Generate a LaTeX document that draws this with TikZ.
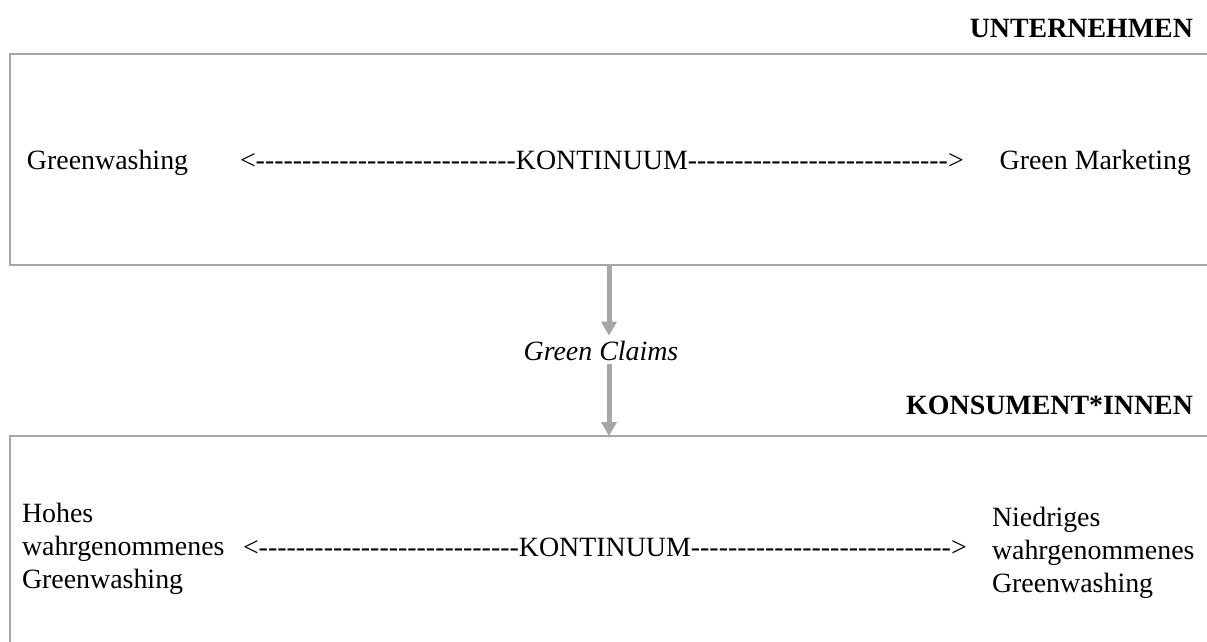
\documentclass[tikz,border=0pt]{standalone}
\usepackage{fontspec}
\setmainfont{Liberation Serif}
\newfontfamily\rawfont{Liberation Serif}[Ligatures=TeXOff]
\usetikzlibrary{arrows.meta}
\definecolor{linegray}{HTML}{A6A6A6}
\begin{document}
\begin{tikzpicture}[x=1pt,y=-1pt,
  every node/.style={inner sep=0pt, outer sep=0pt, font=\fontsize{27.9}{33}\selectfont},
  box/.style={draw=linegray, line width=2.5pt, rectangle},
  flow/.style={draw=linegray, line width=5pt, -{Triangle[width=15pt,length=14pt]}},
  head/.style={font=\fontsize{27.9}{33}\selectfont\bfseries},
  cont/.style={font=\fontsize{27.9}{33}\selectfont\rawfont}]
\useasboundingbox (0,0) rectangle (1207,641);
\clip (0,0) rectangle (1207,641);
\fill[white] (0,0) rectangle (1207,641);
% boxes
\node[box, minimum width=1198pt, minimum height=211pt, anchor=north west] (top) at (10,54) {};
\node[box, minimum width=1198pt, minimum height=300pt, anchor=north west] (bot) at (10,436) {};
% headers
\node[head, anchor=base east] (unt) at (1193,37) {UNTERNEHMEN};
\node[head, anchor=base east] (kons) at (1193,414) {KONSUMENT*INNEN};
% top row
\node[anchor=base west] (gw) at (27,169) {Greenwashing};
\node[cont, anchor=base west] (k1) at (240,169) {<----------------------------KONTINUUM---------------------------->};
\node[anchor=base east] (gm) at (1191,169) {Green Marketing};
% green claims
\node[anchor=base, font=\fontsize{27.9}{33}\selectfont\itshape] (gc) at (601,360) {Green Claims};
% bottom row
\node[anchor=base west, align=left] (hohes) at (22,588) {Hohes\\wahrgenommenes\\Greenwashing};
\node[cont, anchor=base west] (k2) at (243,556) {<----------------------------KONTINUUM---------------------------->};
\node[anchor=base west, align=left] (nied) at (992,592) {Niedriges\\wahrgenommenes\\Greenwashing};
% connectors
\draw[flow, shorten >=5pt] (top.south) -- (top.south |- gc.north);
\draw[flow, shorten <=4pt] (top.south |- gc.south) -- (bot.north);
\end{tikzpicture}
\end{document}
